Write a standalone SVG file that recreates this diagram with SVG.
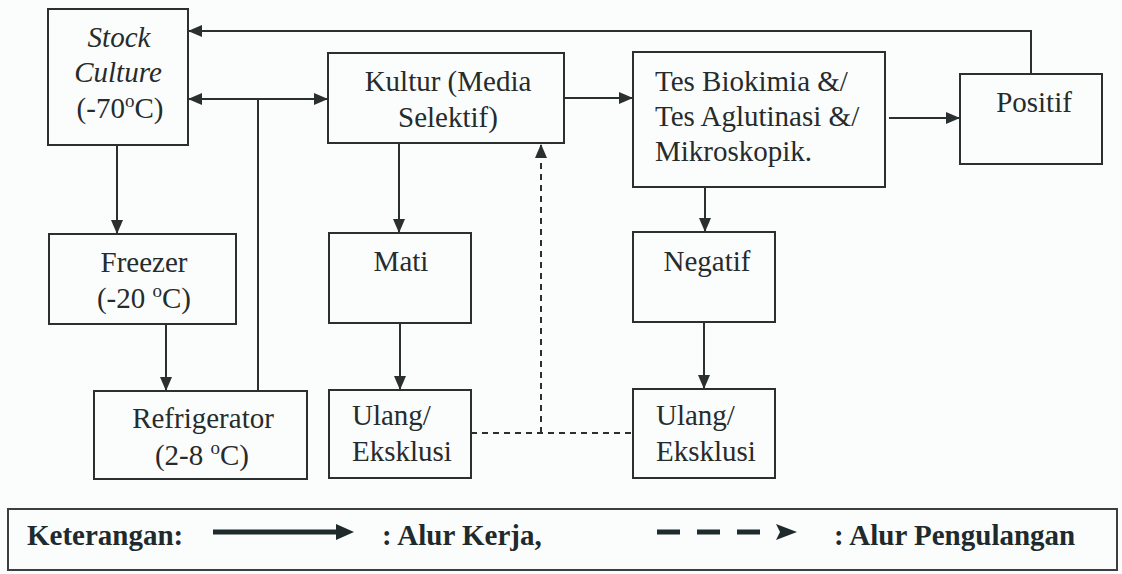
<svg xmlns="http://www.w3.org/2000/svg" width="1122" height="574" viewBox="0 0 1122 574">
<defs>
<style>
.box{fill:none;stroke:#2a2f30;stroke-width:2}
.t{font-family:"Liberation Serif","Times New Roman",serif;font-size:29px;fill:#262b2c}
.c{text-anchor:middle}
.ln{fill:none;stroke:#2a2f30;stroke-width:2}
.dash{fill:none;stroke:#2a2f30;stroke-width:2;stroke-dasharray:6,5}
.lg{font-family:"Liberation Serif","Times New Roman",serif;font-size:29px;font-weight:bold;fill:#1f2a2c}
</style>
<marker id="ah" markerUnits="userSpaceOnUse" markerWidth="14" markerHeight="12" refX="13" refY="6" orient="auto-start-reverse" viewBox="0 0 14 12">
<path d="M0,0 L14,6 L0,12 z" fill="#2a2f30"/>
</marker>
</defs>
<rect width="1122" height="574" fill="#fbfdfd"/>

<g id="connectors">
<polyline class="ln" points="1031,74 1031,31 189,31" marker-end="url(#ah)"/>
<line class="ln" x1="189" y1="99" x2="327" y2="99" marker-start="url(#ah)" marker-end="url(#ah)"/>
<line class="ln" x1="258" y1="391" x2="258" y2="99"/>
<line class="ln" x1="564" y1="98" x2="632" y2="98" marker-end="url(#ah)"/>
<line class="ln" x1="889" y1="118" x2="959" y2="118" marker-end="url(#ah)"/>
<line class="ln" x1="117" y1="145" x2="117" y2="233" marker-end="url(#ah)"/>
<line class="ln" x1="166" y1="324" x2="166" y2="390" marker-end="url(#ah)"/>
<line class="ln" x1="399" y1="143" x2="399" y2="232" marker-end="url(#ah)"/>
<line class="ln" x1="400" y1="323" x2="400" y2="389" marker-end="url(#ah)"/>
<line class="ln" x1="705" y1="187" x2="705" y2="231" marker-end="url(#ah)"/>
<line class="ln" x1="704" y1="322" x2="704" y2="388" marker-end="url(#ah)"/>
<line class="dash" x1="471" y1="433" x2="633" y2="433"/>
<line class="dash" x1="541" y1="433" x2="541" y2="145" marker-end="url(#ah)"/>
</g>

<g id="stock">
<rect class="box" x="48" y="9" width="140" height="136"/>
<text class="t c" x="119" y="47" font-style="italic">Stock</text>
<text class="t c" x="118" y="82" font-style="italic">Culture</text>
<text class="t c" x="120" y="118">(-70<tspan font-size="19" dy="-11">o</tspan><tspan dy="11">C)</tspan></text>
</g>

<g id="kultur">
<rect class="box" x="328" y="53" width="236" height="90"/>
<text class="t c" x="448" y="91">Kultur (Media</text>
<text class="t c" x="448" y="127">Selektif)</text>
</g>

<g id="tes">
<rect class="box" x="633" y="52" width="252" height="135"/>
<text class="t" x="655" y="91">Tes Biokimia &amp;/</text>
<text class="t" x="655" y="126">Tes Aglutinasi &amp;/</text>
<text class="t" x="655" y="161">Mikroskopik.</text>
</g>

<g id="positif">
<rect class="box" x="960" y="74" width="142" height="90"/>
<text class="t c" x="1034" y="112">Positif</text>
</g>

<g id="freezer">
<rect class="box" x="49" y="234" width="187" height="90"/>
<text class="t c" x="144" y="272">Freezer</text>
<text class="t c" x="144" y="308">(-20 <tspan font-size="19" dy="-11">o</tspan><tspan dy="11">C)</tspan></text>
</g>

<g id="refrigerator">
<rect class="box" x="94" y="391" width="213" height="88"/>
<text class="t c" x="203" y="428">Refrigerator</text>
<text class="t c" x="202" y="465">(2-8 <tspan font-size="19" dy="-11">o</tspan><tspan dy="11">C)</tspan></text>
</g>

<g id="mati">
<rect class="box" x="329" y="233" width="142" height="90"/>
<text class="t c" x="401" y="271">Mati</text>
</g>

<g id="ulang1">
<rect class="box" x="329" y="390" width="142" height="88"/>
<text class="t" x="352" y="425">Ulang/</text>
<text class="t" x="352" y="461">Eksklusi</text>
</g>

<g id="negatif">
<rect class="box" x="633" y="232" width="142" height="90"/>
<text class="t c" x="707" y="271">Negatif</text>
</g>

<g id="ulang2">
<rect class="box" x="633" y="389" width="142" height="89"/>
<text class="t" x="656" y="425">Ulang/</text>
<text class="t" x="656" y="461">Eksklusi</text>
</g>

<g id="legend">
<rect x="8" y="509" width="1109" height="61" fill="none" stroke="#3a4042" stroke-width="2"/>
<text class="lg" x="27" y="545">Keterangan:</text>
<line x1="213" y1="532" x2="338" y2="532" stroke="#1f2a2c" stroke-width="5"/>
<path d="M336,524 L354,532 L336,540 z" fill="#1f2a2c"/>
<text class="lg" x="382" y="545">: Alur Kerja,</text>
<line x1="657" y1="532" x2="762" y2="532" stroke="#1f2a2c" stroke-width="5" stroke-dasharray="23,17"/>
<path d="M776,524 L797,532 L776,540 L780,532 z" fill="#1f2a2c"/>
<text class="lg" x="834" y="545">: Alur Pengulangan</text>
</g>
</svg>
